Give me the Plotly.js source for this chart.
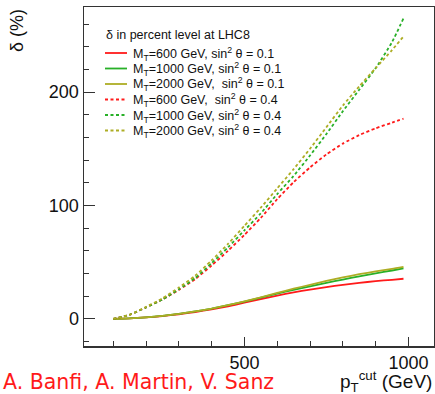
<!DOCTYPE html>
<html>
<head>
<meta charset="utf-8">
<script src="https://cdn.plot.ly/plotly-3.0.1.min.js"></script>
<style>
  html, body { margin: 0; padding: 0; background: #fff; }
  #plot { width: 435px; height: 394px; }
</style>
</head>
<body>
<div id="plot"></div>
<script>
// pT cut values (GeV)
const ptCut = [100, 150, 200, 250, 300, 350, 400, 450, 500, 550, 600, 650, 700, 750, 800, 850, 900, 950, 985];

// delta (%) for sin^2 theta = 0.1
const d600_01  = [0, 0.4, 1.2, 2.4, 4.0, 6.0, 8.3, 11.0, 14.2, 17.3, 20.5, 23.3, 25.8, 28.0, 30.0, 31.7, 33.2, 34.4, 35.3];
const d1000_01 = [0, 0.4, 1.3, 2.6, 4.3, 6.5, 9.0, 12.0, 15.2, 18.7, 22.2, 25.5, 28.6, 31.7, 34.6, 37.4, 40.0, 42.6, 44.5];
const d2000_01 = [0, 0.4, 1.3, 2.6, 4.3, 6.5, 9.0, 12.0, 15.3, 19.0, 22.8, 26.5, 30.0, 33.4, 36.5, 39.3, 41.8, 44.0, 45.8];

// delta (%) for sin^2 theta = 0.4
const d600_04  = [0, 3.5, 10, 17, 25.5, 35, 47, 60, 74, 89, 105.5, 120.5, 133.5, 145, 154.5, 162, 168, 173, 176.5];
const d1000_04 = [0, 3.5, 10, 17, 26, 36, 49, 63, 78, 93, 110, 126, 144, 163, 183, 202, 221, 244, 265];
const d2000_04 = [0, 3.5, 10.5, 18, 27.5, 38, 51.5, 66, 82, 98, 115, 132, 150, 169, 188, 205, 221, 237, 249];

const legendTitle = 'δ in percent level at LHC8';
const names = [
  'M<sub>T</sub>=600 GeV, sin<sup>2</sup> θ = 0.1',
  'M<sub>T</sub>=1000 GeV, sin<sup>2</sup> θ = 0.1',
  'M<sub>T</sub>=2000 GeV,  sin<sup>2</sup> θ = 0.1',
  'M<sub>T</sub>=600 GeV,  sin<sup>2</sup> θ = 0.4',
  'M<sub>T</sub>=1000 GeV, sin<sup>2</sup> θ = 0.4',
  'M<sub>T</sub>=2000 GeV, sin<sup>2</sup> θ = 0.4'
];

const RED = '#ff1a1a', GREEN = '#28b028', OLIVE = '#adad24';
const DASH = '3px,2.5px';
const colors = [RED, GREEN, OLIVE, RED, GREEN, OLIVE];
const dashes = ['solid', 'solid', 'solid', DASH, DASH, DASH];
const series = [d600_01, d1000_01, d2000_01, d600_04, d1000_04, d2000_04];

const FONT = 'Liberation Sans, Arial, sans-serif';

const traces = series.map((y, i) => ({
  x: ptCut, y: y, name: names[i], type: 'scatter', mode: 'lines',
  line: { color: colors[i], width: 1.8, dash: dashes[i], shape: 'spline', smoothing: 0.5 }
}));

// plot area in pixels: left 84, right 434, top 7, bottom 346
const PX = px => (px - 84) / 350;
const PY = py => (346 - py) / 339;

// compact key drawn inside the frame
const keyShapes = [];
const keyNotes = [{
  text: legendTitle, xref: 'paper', yref: 'paper', x: PX(104), y: PY(35),
  xanchor: 'left', yanchor: 'middle', showarrow: false,
  font: { family: FONT, size: 12.5, color: '#111' }
}];
names.forEach((n, i) => {
  const row = 53 + i * 15.5;
  keyShapes.push({
    type: 'line', xref: 'paper', yref: 'paper',
    x0: PX(105), x1: PX(127), y0: PY(row), y1: PY(row),
    line: { color: colors[i], width: 1.8, dash: dashes[i] }
  });
  keyNotes.push({
    text: n, xref: 'paper', yref: 'paper', x: PX(131), y: PY(row + 0.5),
    xanchor: 'left', yanchor: 'middle', showarrow: false,
    font: { family: FONT, size: 12.5, color: '#111' }
  });
});

const axisFont = { family: FONT, size: 18, color: '#111' };

const layout = {
  width: 435, height: 394,
  margin: { l: 84, r: 1, t: 7, b: 48 },
  paper_bgcolor: '#fff', plot_bgcolor: '#fff',
  showlegend: false,
  xaxis: {
    range: [11, 1078], showgrid: false, zeroline: false,
    showline: true, linecolor: '#333', linewidth: 1.5, mirror: true,
    ticks: 'inside', ticklen: 9, tickcolor: '#333', tickwidth: 1,
    tickvals: [500, 1000], ticktext: ['500', '1000'],
    minor: { dtick: 100, tick0: 0, ticks: 'inside', ticklen: 5, tickcolor: '#333', tickwidth: 1 },
    tickfont: axisFont
  },
  yaxis: {
    range: [-24, 275], showgrid: false, zeroline: false,
    showline: true, linecolor: '#333', linewidth: 1.5, mirror: true,
    ticks: 'inside', ticklen: 11, tickcolor: '#333', tickwidth: 1,
    tickvals: [0, 100, 200], ticktext: ['0', '100', '200'],
    minor: { dtick: 20, tick0: 0, ticks: 'inside', ticklen: 5, tickcolor: '#333', tickwidth: 1 },
    tickfont: axisFont
  },
  shapes: keyShapes,
  annotations: keyNotes.concat([
    { text: 'δ (%)', xref: 'paper', yref: 'paper', x: PX(17), y: PY(31),
      xanchor: 'center', yanchor: 'middle', textangle: -90, showarrow: false,
      font: { family: FONT, size: 18, color: '#111' } },
    { text: 'p<sub>T</sub><sup>cut</sup> (GeV)', xref: 'paper', yref: 'paper', x: PX(434), y: PY(381),
      xanchor: 'right', yanchor: 'middle', showarrow: false,
      font: { family: FONT, size: 19, color: '#111' } },
    { text: 'A. Banfi, A. Martin, V. Sanz', xref: 'paper', yref: 'paper', x: PX(1), y: PY(382),
      xanchor: 'left', yanchor: 'middle', showarrow: false,
      font: { family: 'DejaVu Sans, sans-serif', size: 20.5, color: '#ff1a1a' } }
  ])
};

Plotly.newPlot('plot', traces, layout, { displayModeBar: false, staticPlot: true });
</script>
</body>
</html>
